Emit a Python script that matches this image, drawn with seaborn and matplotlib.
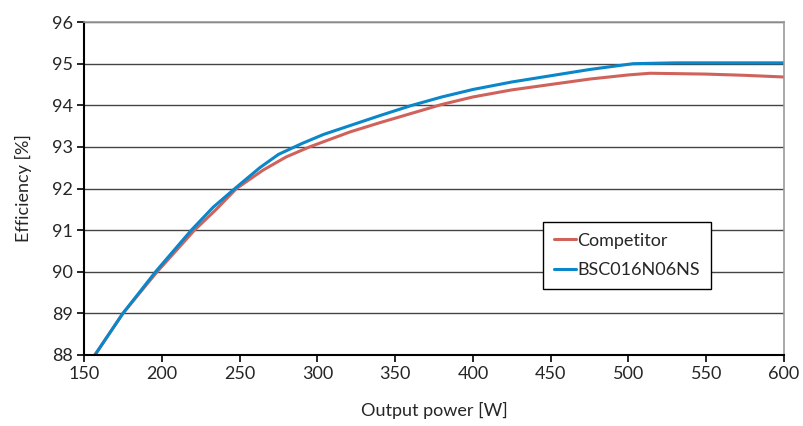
import pandas as pd
import matplotlib
matplotlib.use("Agg")
import matplotlib.pyplot as plt
import seaborn as sns

# valori (potenza in W, efficienza in %)
power_competitor = [157, 175, 197, 221, 235, 248, 265, 280, 295, 321, 340, 360, 380,
                    400, 425, 450, 475, 500, 514, 550, 575, 600]
eff_competitor = [88.0, 89.0, 90.0, 91.0, 91.5, 92.0, 92.44, 92.76, 93.0, 93.36, 93.58, 93.8, 94.02,
                  94.2, 94.37, 94.5, 94.63, 94.73, 94.77, 94.75, 94.72, 94.68]
power_bsc = [157, 175, 196, 219, 233, 247, 263, 275, 290, 304, 320, 340, 360,
             380, 400, 425, 450, 475, 503, 530, 560, 600]
eff_bsc = [88.0, 89.0, 90.0, 91.0, 91.55, 92.0, 92.5, 92.82, 93.08, 93.3, 93.5, 93.75, 93.99,
           94.2, 94.38, 94.56, 94.71, 94.86, 95.0, 95.02, 95.02, 95.02]
series_names = ["Competitor", "BSC016N06NS"]

df = pd.concat([
    pd.DataFrame({"power": power_competitor, "eff": eff_competitor, "device": series_names[0]}),
    pd.DataFrame({"power": power_bsc, "eff": eff_bsc, "device": series_names[1]}),
])

sns.set_style("white")
plt.rcParams["font.family"] = ["Lato", "DejaVu Sans"]

fig = plt.figure(figsize=(8.04, 4.26), dpi=100)
ax = fig.add_axes([0.1045, 0.1667, 0.8706, 0.7815])

sns.lineplot(data=df, x="power", y="eff", hue="device", sort=True,
             palette={"Competitor": "#D0625C", "BSC016N06NS": "#0A86C9"},
             linewidth=2.2, ax=ax)

ax.set_xlim(150, 600)
ax.set_ylim(88, 96)
ax.set_xticks(range(150, 601, 50))
ax.set_yticks(range(88, 97))
ax.yaxis.grid(True, color="#444444", linewidth=1.0)
ax.xaxis.grid(False)
ax.set_axisbelow(True)

for s in ["top", "right"]:
    ax.spines[s].set_color("#999999")
    ax.spines[s].set_linewidth(1.2)
for s in ["left", "bottom"]:
    ax.spines[s].set_color("black")
    ax.spines[s].set_linewidth(1.5)

ax.tick_params(axis="both", direction="out", length=5, width=1.2, color="black",
               labelsize=13, pad=3, left=True, bottom=True)

ax.set_xlabel("Output power [W]", fontsize=13, labelpad=14)
ax.set_ylabel("Efficiency [%]", fontsize=13, labelpad=14)

leg = ax.legend(loc="upper left", bbox_to_anchor=(0.656, 0.40), borderaxespad=0,
                fontsize=13, frameon=True, fancybox=False, handlelength=1.2,
                handletextpad=0.1, borderpad=0.6, labelspacing=0.75, title=None)
leg.get_frame().set_edgecolor("black")
leg.get_frame().set_linewidth(1.0)
leg.get_frame().set_alpha(1)

fig.savefig("out.png", dpi=100)
